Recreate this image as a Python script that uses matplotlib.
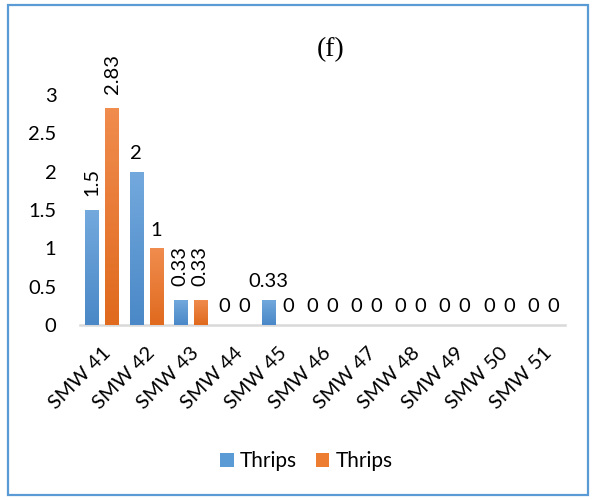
import numpy as np
import matplotlib.pyplot as plt
from matplotlib.patches import Rectangle
from matplotlib.colors import LinearSegmentedColormap

# weekly thrips counts, two series
weeks = ['SMW 41', 'SMW 42', 'SMW 43', 'SMW 44', 'SMW 45', 'SMW 46',
         'SMW 47', 'SMW 48', 'SMW 49', 'SMW 50', 'SMW 51']
thrips_a = [1.5, 2, 0.33, 0, 0.33, 0, 0, 0, 0, 0, 0]
thrips_b = [2.83, 1, 0.33, 0, 0, 0, 0, 0, 0, 0, 0]
labels_a = ['1.5', '2', '0.33', '0', '0.33', '0', '0', '0', '0', '0', '0']
labels_b = ['2.83', '1', '0.33', '0', '0', '0', '0', '0', '0', '0', '0']
rot_a = [90, 0, 90, 0, 0, 0, 0, 0, 0, 0, 0]
rot_b = [90, 0, 90, 0, 0, 0, 0, 0, 0, 0, 0]
series_names = ['Thrips', 'Thrips']

blue = '#5B9BD5'
orange = '#ED7D31'
font = ['Lato', 'DejaVu Sans']
fs = 14.5

fig = plt.figure(figsize=(5.95, 5.0), dpi=100)
ax = fig.add_axes([0.1345, 0.35, 0.815, 0.46])

x = np.arange(len(weeks))
w = 0.3
off = 0.227
bars_a = ax.bar(x - off, thrips_a, w, color=blue, label=series_names[0], zorder=3)
bars_b = ax.bar(x + off, thrips_b, w, color=orange, label=series_names[1], zorder=3)

# soft vertical gradient on each bar
def shade(bars, top, bottom):
    cmap = LinearSegmentedColormap.from_list('g', [bottom, top])
    grad = np.linspace(0, 1, 64).reshape(-1, 1)
    for b in bars:
        h = b.get_height()
        if h <= 0:
            continue
        x0 = b.get_x()
        im = ax.imshow(grad, cmap=cmap, origin='lower', aspect='auto',
                       extent=[x0, x0 + b.get_width(), 0, h], zorder=4)
        im.set_clip_path(b)

shade(bars_a, '#73A9DD', '#4A88C7')
shade(bars_b, '#F08C4E', '#E06A1E')

def put_labels(bars, labels, rots):
    for b, lab, r in zip(bars, labels, rots):
        cx = b.get_x() + b.get_width() / 2
        if r:
            ax.annotate(lab, (cx, b.get_height()), xytext=(0, 10),
                        textcoords='offset points', ha='center', va='bottom',
                        rotation=90, fontsize=fs, family=font, zorder=5)
        else:
            ax.annotate(lab, (cx, b.get_height()), xytext=(0, 7),
                        textcoords='offset points', ha='center', va='bottom',
                        fontsize=fs, family=font, zorder=5)

put_labels(bars_a, labels_a, rot_a)
put_labels(bars_b, labels_b, rot_b)

ax.set_xlim(-0.5, len(weeks) - 0.5)
ax.set_ylim(0, 3)
ax.set_yticks([0, 0.5, 1, 1.5, 2, 2.5, 3])
ax.set_yticklabels(['0', '0.5', '1', '1.5', '2', '2.5', '3'], family=font, fontsize=fs)
ax.set_xticks(x)
ax.set_xticklabels(weeks, rotation=45, ha='right', rotation_mode='anchor',
                   family=font, fontsize=fs)
ax.tick_params(axis='both', length=0)
ax.tick_params(axis='y', pad=17)
ax.tick_params(axis='x', pad=14)

for s in ['top', 'right', 'left']:
    ax.spines[s].set_visible(False)
ax.spines['bottom'].set_color('#D9D9D9')
ax.spines['bottom'].set_linewidth(1.8)
ax.spines['bottom'].set_zorder(2)

fig.text(0.555, 0.9, '(f)', ha='center', va='center', fontsize=20,
         family='Liberation Serif')

leg = fig.legend(handles=[bars_a, bars_b], loc='center', bbox_to_anchor=(0.515, 0.078),
                 ncol=2, frameon=False, prop={'family': 'Lato', 'size': 15},
                 handlelength=0.65, handleheight=0.65, handletextpad=0.3,
                 columnspacing=0.9)

# outer frame
fig.patches.append(Rectangle((0.014, 0.01), 0.975, 0.98, transform=fig.transFigure,
                             fill=False, edgecolor=blue, linewidth=1.6))

fig.savefig('out.png', dpi=100)
